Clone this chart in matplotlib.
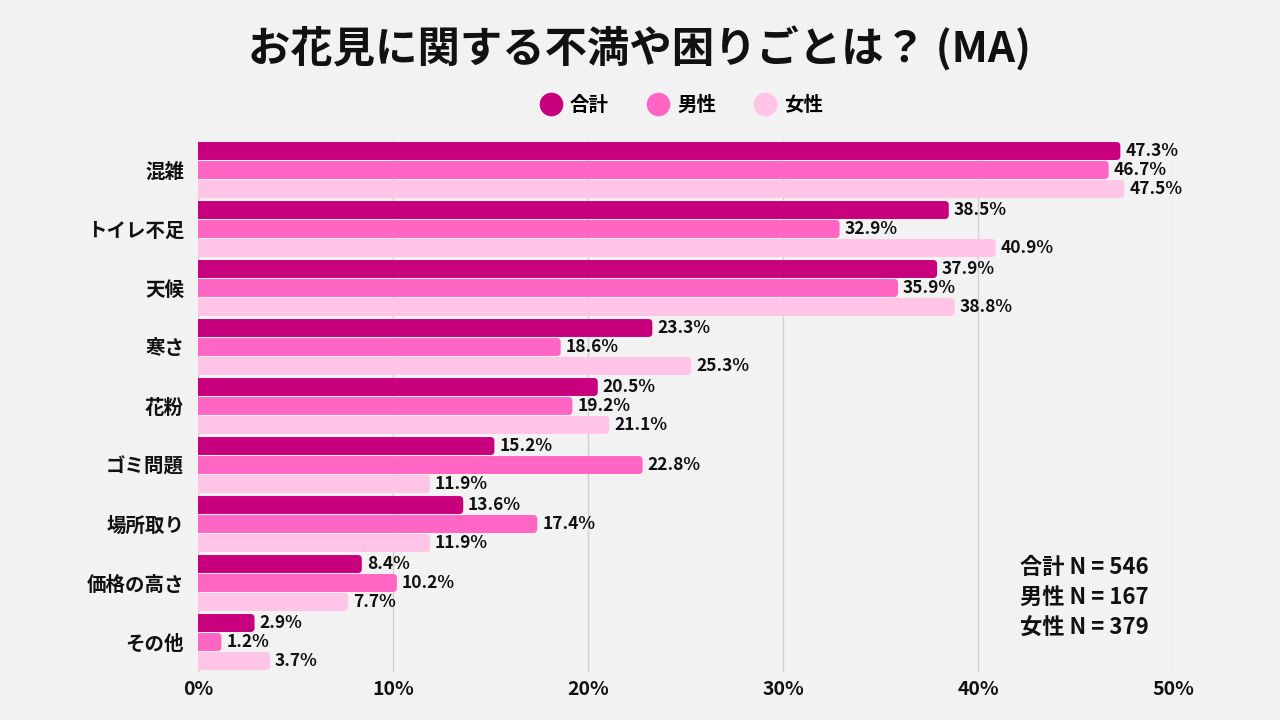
import matplotlib
matplotlib.use("Agg")
import matplotlib.pyplot as plt
from matplotlib.patches import FancyBboxPatch
import numpy as np

plt.rcParams['font.family'] = ['Noto Sans CJK JP', 'DejaVu Sans']

categories = ["混雑", "トイレ不足", "天候", "寒さ", "花粉", "ゴミ問題", "場所取り", "価格の高さ", "その他"]
series_names = ["合計", "男性", "女性"]
total = [47.3, 38.5, 37.9, 23.3, 20.5, 15.2, 13.6, 8.4, 2.9]
male = [46.7, 32.9, 35.9, 18.6, 19.2, 22.8, 17.4, 10.2, 1.2]
female = [47.5, 40.9, 38.8, 25.3, 21.1, 11.9, 11.9, 7.7, 3.7]
xticks = [0, 10, 20, 30, 40, 50]
n_lines = ["合計 N = 546", "男性 N = 167", "女性 N = 379"]

colors = ["#C8007D", "#FF66C4", "#FFC4E6"]
bg = "#F2F2F2"

fig = plt.figure(figsize=(12.8, 7.2), dpi=100, facecolor=bg)
ax = fig.add_axes([198/1280, 1-671.5/720, 975/1280, 531/720], facecolor=bg)

y = np.arange(len(categories))
h = 0.322
gap = 0.018
for i, (vals, c) in enumerate(zip([total, male, female], colors)):
    pos = y + (i - 1) * h
    bars = ax.barh(pos, vals, height=h, color=c, zorder=3, label=series_names[i])
    for b in bars:
        x0, y0, w, hh = b.get_x(), b.get_y(), b.get_width(), b.get_height()
        b.set_visible(False)
        r = FancyBboxPatch((x0 - 0.5, y0 + gap / 2), w + 0.5, hh - gap,
                           boxstyle="round,pad=0,rounding_size=0.2",
                           mutation_aspect=0.34, facecolor=c, edgecolor="none",
                           zorder=3, clip_on=True)
        ax.add_patch(r)
    for p, v in zip(pos, vals):
        ax.text(v + 0.25, p, f"{v}%", va="center", ha="left", fontsize=12.5,
                fontweight="bold", color="#111111", zorder=4)

ax.set_xlim(0, 50)
ax.set_ylim(len(categories) - 0.5, -0.5)
ax.set_xticks(xticks)
ax.set_xticklabels([f"{t}%" for t in xticks], fontsize=14, fontweight="bold", color="#111111")
ax.set_yticks(y)
ax.set_yticklabels(categories, fontsize=14, fontweight="bold", color="#111111")
ax.tick_params(axis="both", length=0)
ax.tick_params(axis="x", pad=6)
ax.tick_params(axis="y", pad=10)
ax.grid(axis="x", color="#D0D0D0", linewidth=1.0, zorder=0)
for s in ax.spines.values():
    s.set_visible(False)

fig.text(0.5, 1 - 49/720, "お花見に関する不満や困りごとは？ (MA)", ha="center", va="center",
         fontsize=30.5, fontweight="bold", color="#111111")

leg = fig.legend(handles=[plt.Line2D([], [], marker="o", linestyle="", markersize=16,
                                     color=c) for c in colors],
                 labels=series_names, loc="center", bbox_to_anchor=(681/1280, 1 - 105/720),
                 ncol=3, frameon=False, fontsize=14, handletextpad=0.4, columnspacing=1.9,
                 handlelength=1.2)
for t in leg.get_texts():
    t.set_fontweight("bold")

for k, line in enumerate(n_lines):
    fig.text(1020/1280, 1 - (567 + k * 30.5)/720, line, ha="left", va="center",
             fontsize=16, fontweight="bold", color="#111111")

fig.savefig("out.png", dpi=100, facecolor=bg)
